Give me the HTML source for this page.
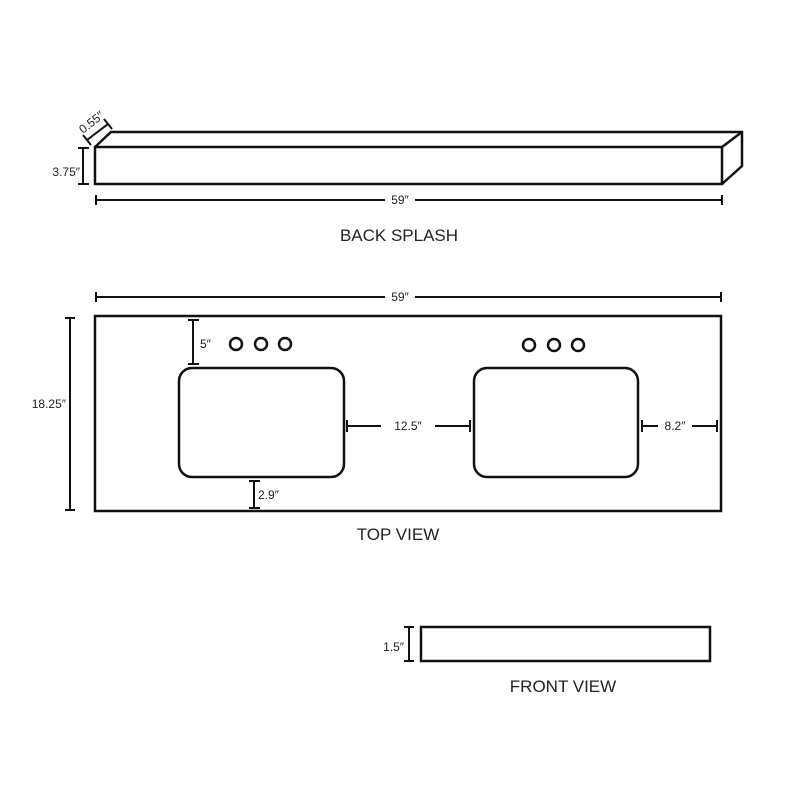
<!DOCTYPE html>
<html><head><meta charset="utf-8"><style>
html,body{margin:0;padding:0;background:#fff;width:800px;height:800px;overflow:hidden}
svg text{font-family:"Liberation Sans",sans-serif;fill:#222}
</style></head><body>
<svg width="800" height="800" viewBox="0 0 800 800" xmlns="http://www.w3.org/2000/svg">
<g fill="none" stroke="#111" stroke-width="2.5" stroke-linejoin="miter">
<rect x="95" y="147" width="627" height="37"/>
<polyline points="95,147 111,132 742,132 742,166 722,184"/>
<line x1="722" y1="147" x2="742" y2="132"/>
</g>
<g stroke="#111" stroke-width="2" fill="none">
<line x1="87" y1="140" x2="108" y2="124"/>
<line x1="83" y1="135" x2="91" y2="145"/>
<line x1="104" y1="119" x2="112" y2="129"/>
<line x1="83" y1="148" x2="83" y2="184"/>
<line x1="78" y1="148" x2="89" y2="148"/>
<line x1="78" y1="184" x2="89" y2="184"/>
<line x1="96" y1="200" x2="385" y2="200"/>
<line x1="415" y1="200" x2="722" y2="200"/>
<line x1="96" y1="195" x2="96" y2="205"/>
<line x1="722" y1="195" x2="722" y2="205"/>
<line x1="96" y1="297" x2="385" y2="297"/>
<line x1="415" y1="297" x2="721" y2="297"/>
<line x1="96" y1="292" x2="96" y2="302"/>
<line x1="721" y1="292" x2="721" y2="302"/>
<line x1="70" y1="318" x2="70" y2="510"/>
<line x1="65" y1="318" x2="75" y2="318"/>
<line x1="65" y1="510" x2="75" y2="510"/>
<line x1="193" y1="320" x2="193" y2="364"/>
<line x1="188" y1="320" x2="199" y2="320"/>
<line x1="188" y1="364" x2="199" y2="364"/>
<line x1="254" y1="481" x2="254" y2="508"/>
<line x1="249" y1="481" x2="260" y2="481"/>
<line x1="249" y1="508" x2="260" y2="508"/>
<line x1="347" y1="426" x2="381" y2="426"/>
<line x1="435" y1="426" x2="470" y2="426"/>
<line x1="347" y1="420" x2="347" y2="432"/>
<line x1="470" y1="420" x2="470" y2="432"/>
<line x1="642" y1="426" x2="658" y2="426"/>
<line x1="692" y1="426" x2="717" y2="426"/>
<line x1="642" y1="420" x2="642" y2="432"/>
<line x1="717" y1="420" x2="717" y2="432"/>
<line x1="409" y1="627" x2="409" y2="661"/>
<line x1="404" y1="627" x2="414" y2="627"/>
<line x1="404" y1="661" x2="414" y2="661"/>
</g>
<g fill="none" stroke="#111" stroke-width="2.5">
<rect x="95" y="316" width="626" height="195"/>
<rect x="179" y="368" width="165" height="109" rx="13"/>
<rect x="474" y="368" width="164" height="109" rx="13"/>
<circle cx="236" cy="344" r="6"/><circle cx="261" cy="344" r="6"/><circle cx="285" cy="344" r="6"/>
<circle cx="529" cy="345" r="6"/><circle cx="554" cy="345" r="6"/><circle cx="578" cy="345" r="6"/>
<rect x="421" y="627" width="289" height="34"/>
</g>
<g font-size="12">
<text x="80" y="176" text-anchor="end">3.75″</text>
<text x="0" y="0" transform="translate(83,134) rotate(-38)">0.55″</text>
<text x="400" y="204" text-anchor="middle">59″</text>
<text x="400" y="301" text-anchor="middle">59″</text>
<text x="66" y="408" text-anchor="end">18.25″</text>
<text x="200" y="348">5″</text>
<text x="258" y="499">2.9″</text>
<text x="408" y="430" text-anchor="middle">12.5″</text>
<text x="675" y="430" text-anchor="middle">8.2″</text>
<text x="404" y="651" text-anchor="end">1.5″</text>
</g>
<g font-size="17">
<text x="399" y="241" text-anchor="middle">BACK SPLASH</text>
<text x="398" y="540" text-anchor="middle">TOP VIEW</text>
<text x="563" y="692" text-anchor="middle">FRONT VIEW</text>
</g>
</svg>
</body></html>
